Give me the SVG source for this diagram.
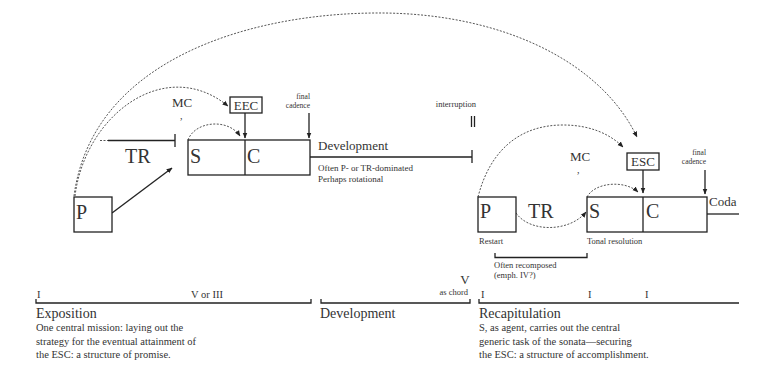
<svg xmlns="http://www.w3.org/2000/svg" width="767" height="377" viewBox="0 0 767 377" font-family="'Liberation Serif','DejaVu Serif','Times New Roman',serif">
<defs>
<marker id="ah" viewBox="0 0 10 10" refX="9" refY="5" markerWidth="6" markerHeight="6" orient="auto" markerUnits="userSpaceOnUse"><path d="M0,1 L10,5 L0,9 Z" fill="#222"/></marker>
<style>
text{font-family:'Liberation Serif','DejaVu Serif','Times New Roman',serif;fill:#333}
.box{fill:#fff;stroke:#222;stroke-width:1.3}
.ln{fill:none;stroke:#222;stroke-width:1.3}
.dot{fill:none;stroke:#555;stroke-width:1;stroke-dasharray:2 1.5}
.big{font-size:20px}
.med{font-size:13px}
.sm{font-size:9px}
.xs{font-size:8.5px}
.fc{font-size:7.5px}
.cm{font-size:10px}
.hd{font-size:14px}
.ds{font-size:10.5px}
.end{text-anchor:end}
.mid{text-anchor:middle}
</style>
</defs>
<rect width="767" height="377" fill="#fff"/>
<g id="connectors">
<path class="dot" d="M74,196 C92,60 250,12 383,13 C500,14 600,60 637,137" marker-end="url(#ah)"/>
<path class="dot" d="M75,196 C85,115 165,55 228,106" marker-end="url(#ah)"/>
<path class="dot" d="M188,140 C195,121 228,118 240,136" marker-end="url(#ah)"/>
<path class="ln" d="M112,213 L172,168" marker-end="url(#ah)"/>
<path class="dot" d="M100,140.5 H108"/>
<path class="ln" d="M108,140.5 H175 M175,134 V147"/>
<path class="ln" d="M245,113 V138" marker-end="url(#ah)"/>
<path class="ln" d="M309,113 V138" marker-end="url(#ah)"/>
<path class="ln" d="M310,157 H472 M472,150 V163"/>
<path class="ln" d="M471.5,116 V127 M474.5,116 V127"/>
<path class="dot" d="M478,197 C490,150 520,125 563,125 C590,125 610,134 623,147" marker-end="url(#ah)"/>
<path class="dot" d="M516,213 C530,233 570,232 586,212" marker-end="url(#ah)"/>
<path class="dot" d="M587,197 C595,182 625,180 638,192" marker-end="url(#ah)"/>
<path class="ln" d="M643,170 V193" marker-end="url(#ah)"/>
<path class="ln" d="M705,170 V194" marker-end="url(#ah)"/>
<path class="ln" d="M707,214 H739"/>
<path class="ln" d="M495,253 V257.5 H587 V253"/>
<path class="ln" d="M36,299 V303 H311 V299"/>
<path class="ln" d="M321,299 V303 H470 V299"/>
<path class="ln" d="M479,299 V303 H739"/>
</g>
<g id="expo-P"><rect class="box" x="74" y="197" width="38" height="35"/><text class="big" x="76" y="219">P</text></g>
<g id="expo-TR"><text class="big" x="125" y="163">TR</text></g>
<g id="expo-SC"><rect class="box" x="188" y="140" width="122" height="35"/><path class="ln" d="M245,140 V175"/><text class="big" x="190" y="163">S</text><text class="big" x="247" y="163">C</text></g>
<g id="expo-EEC"><rect class="box" x="230" y="97" width="32" height="16"/><text class="med mid" x="246" y="110">EEC</text></g>
<g id="expo-MC"><text class="med" x="172" y="107">MC</text><text class="cm" x="180" y="118.5">,</text></g>
<g id="expo-fc"><text class="fc end" x="310" y="99">final</text><text class="fc end" x="310" y="107.7">cadence</text></g>
<g id="dev-top"><text class="med" x="318" y="150">Development</text><text class="sm" x="318" y="171">Often P- or TR-dominated</text><text class="sm" x="318" y="182">Perhaps rotational</text><text class="xs end" x="476" y="107">interruption</text></g>
<g id="recap-P"><rect class="box" x="478" y="197" width="38" height="35"/><text class="big" x="480" y="218">P</text><text class="xs" x="479" y="244">Restart</text></g>
<g id="recap-TR"><text class="big" x="528" y="218">TR</text></g>
<g id="recap-SC"><rect class="box" x="587" y="197" width="120" height="35"/><path class="ln" d="M643,197 V232"/><text class="big" x="589" y="218">S</text><text class="big" x="646" y="218">C</text><text class="xs" x="587" y="244">Tonal resolution</text></g>
<g id="recap-ESC"><rect class="box" x="627" y="153" width="32" height="17"/><text class="med mid" x="643" y="166">ESC</text></g>
<g id="recap-MC"><text class="med" x="570" y="161">MC</text><text class="cm" x="577" y="172.5">,</text></g>
<g id="recap-fc"><text class="fc end" x="706" y="155">final</text><text class="fc end" x="706" y="163.7">cadence</text></g>
<g id="coda"><text class="med" x="709" y="206">Coda</text></g>
<g id="recomp"><text class="xs" x="494" y="268">Often recomposed</text><text class="xs" x="494" y="278">(emph. IV?)</text></g>
<g id="exposition"><text class="ds" x="37" y="298">I</text><text class="ds mid" x="207" y="298">V or III</text><text class="hd" x="36" y="318">Exposition</text><text class="ds" x="36" y="331">One central mission: laying out the</text><text class="ds" x="36" y="345">strategy for the eventual attainment of</text><text class="ds" x="36" y="358">the ESC: a structure of promise.</text></g>
<g id="development"><text class="med mid" x="465" y="284">V</text><text class="xs end" x="468" y="295">as chord</text><text class="hd" x="320" y="318">Development</text></g>
<g id="recapitulation"><text class="ds" x="481" y="298">I</text><text class="ds" x="588" y="298">I</text><text class="ds" x="645" y="298">I</text><text class="hd" x="479" y="318">Recapitulation</text><text class="ds" x="479" y="331">S, as agent, carries out the central</text><text class="ds" x="479" y="345">generic task of the sonata—securing</text><text class="ds" x="479" y="358">the ESC: a structure of accomplishment.</text></g>
</svg>
